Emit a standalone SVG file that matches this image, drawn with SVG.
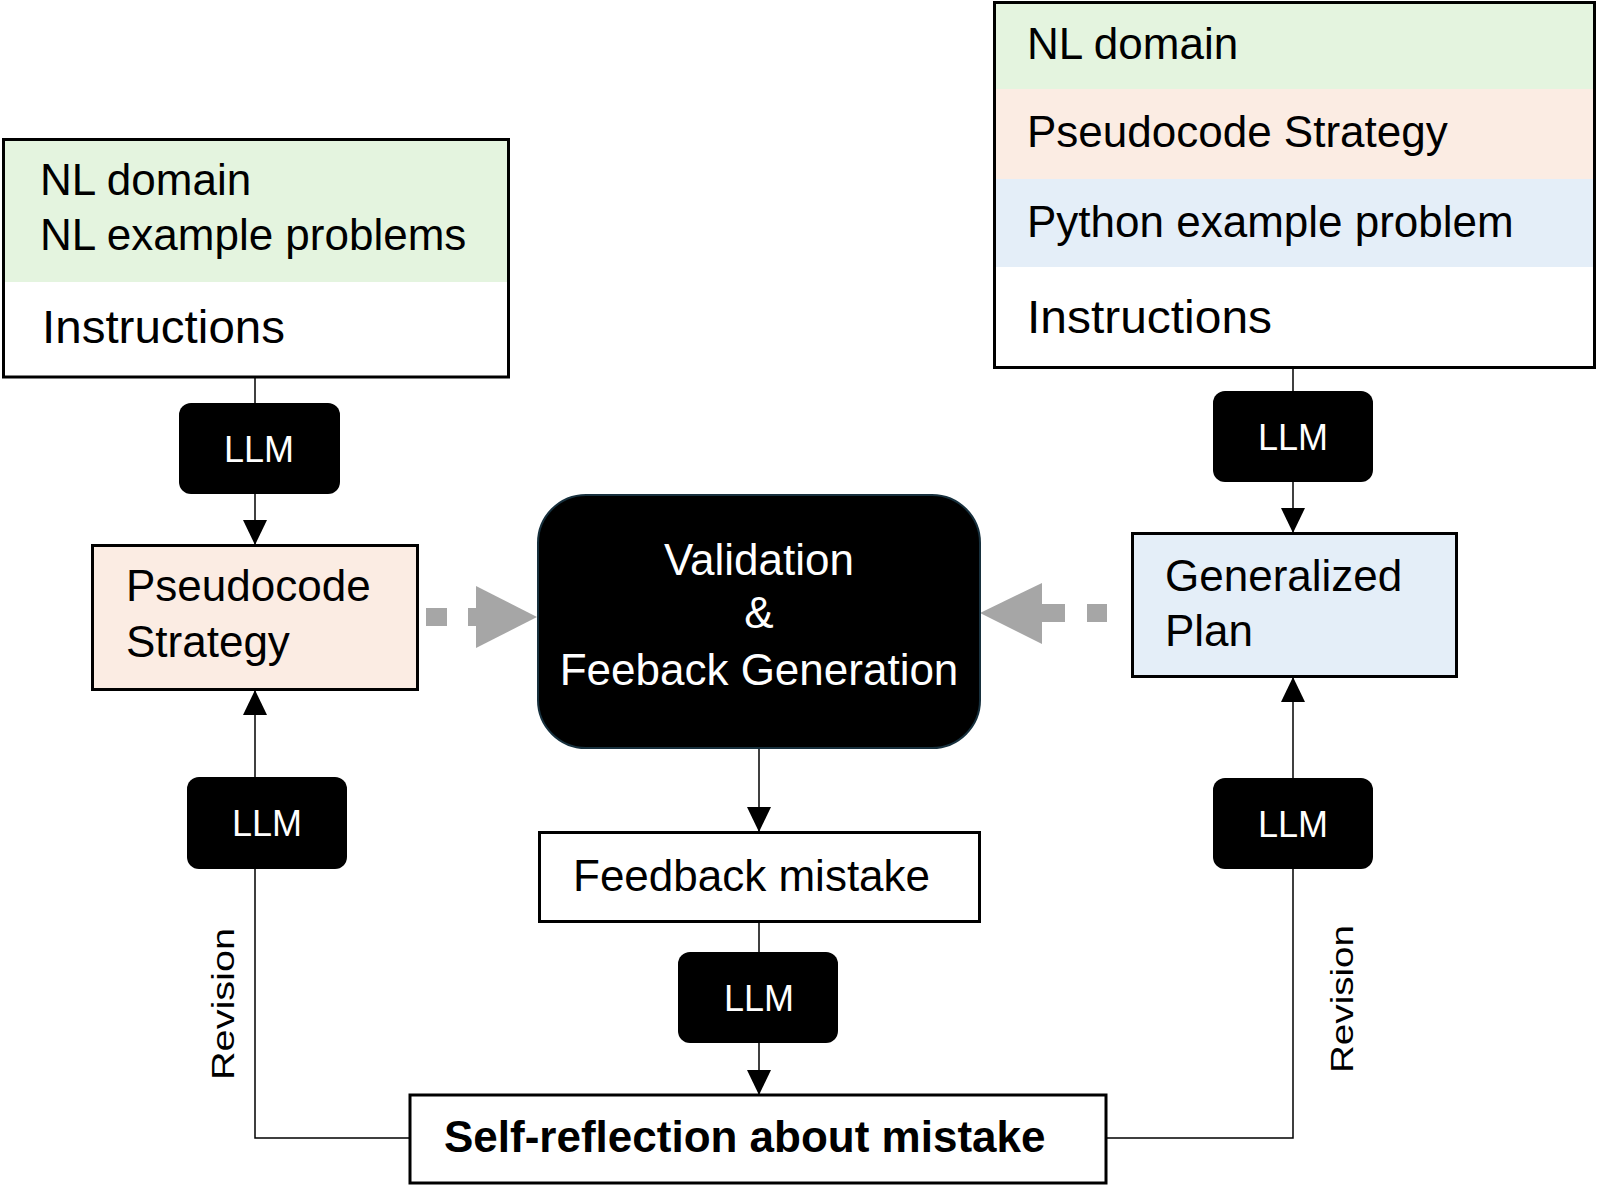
<svg xmlns="http://www.w3.org/2000/svg" width="1597" height="1194" viewBox="0 0 1597 1194">
<defs>
<style>
text{font-family:"Liberation Sans",Arial,sans-serif;}
.t{font-size:44px;fill:#000;}
.ins{font-size:47px;fill:#000;}
.llmt{font-size:36px;fill:#fff;text-anchor:middle;}
.vt{font-size:44px;fill:#fff;text-anchor:middle;}
.rev{font-size:32px;fill:#000;text-anchor:middle;}
.box{stroke:#000;stroke-width:3;}
.llm{fill:#000;}
.c{fill:none;stroke:#000;stroke-width:1.5;}
.g{fill:#A6A6A6;}
</style>
<marker id="ah" viewBox="0 0 25 24" refX="25" refY="12" markerWidth="25" markerHeight="24" markerUnits="userSpaceOnUse" orient="auto">
<path d="M0,0 L25,12 L0,24 Z" fill="#000"/>
</marker>
</defs>
<rect width="1597" height="1194" fill="#fff"/>

<g id="connectors">
<path class="c" d="M255,377 V403"/>
<path class="c" d="M255,494 V545" marker-end="url(#ah)"/>
<path class="c" d="M255,777 V690" marker-end="url(#ah)"/>
<path class="c" d="M410,1138 H255 V869"/>
<path class="c" d="M1293,368 V391"/>
<path class="c" d="M1293,482 V533" marker-end="url(#ah)"/>
<path class="c" d="M1293,778 V677" marker-end="url(#ah)"/>
<path class="c" d="M1106,1138 H1293 V869"/>
<path class="c" d="M759,748 V832" marker-end="url(#ah)"/>
<path class="c" d="M759,922 V952"/>
<path class="c" d="M759,1043 V1095" marker-end="url(#ah)"/>
<g id="gray-left">
<rect class="g" x="426" y="608" width="21" height="18"/>
<rect class="g" x="468" y="608" width="10" height="18"/>
<polygon class="g" points="476,586 537,617 476,648"/>
</g>
<g id="gray-right">
<polygon class="g" points="1042,583 980,613 1042,644"/>
<rect class="g" x="1041" y="604" width="24" height="18"/>
<rect class="g" x="1087" y="604" width="20" height="18"/>
</g>
<text class="rev" transform="translate(234,1004) rotate(-90)" textLength="152" lengthAdjust="spacingAndGlyphs">Revision</text>
<text class="rev" transform="translate(1353,999) rotate(-90)" textLength="148" lengthAdjust="spacingAndGlyphs">Revision</text>
</g>

<g id="input-left">
<rect x="3.5" y="139.5" width="505" height="237.5" fill="#fff"/>
<rect x="5" y="141" width="502" height="141" fill="#E4F4DF"/>
<rect class="box" x="3.5" y="139.5" width="505" height="237.5" fill="none"/>
<text class="t" x="40" y="195">NL domain</text>
<text class="t" x="40" y="250">NL example problems</text>
<text class="ins" x="42" y="343" textLength="243" lengthAdjust="spacingAndGlyphs">Instructions</text>
</g>

<g id="input-right">
<rect x="994.5" y="2.5" width="600" height="365" fill="#fff"/>
<rect x="996" y="4" width="597" height="85" fill="#E4F4DF"/>
<rect x="996" y="89" width="597" height="90" fill="#FBECE3"/>
<rect x="996" y="179" width="597" height="88" fill="#E4EEF8"/>
<rect class="box" x="994.5" y="2.5" width="600" height="365" fill="none"/>
<text class="t" x="1027" y="59">NL domain</text>
<text class="t" x="1027" y="147">Pseudocode Strategy</text>
<text class="t" x="1027" y="237">Python example problem</text>
<text class="ins" x="1027" y="333" textLength="245" lengthAdjust="spacingAndGlyphs">Instructions</text>
</g>

<g id="llm1"><rect class="llm" x="179" y="403" width="161" height="91" rx="12"/><text class="llmt" x="259" y="462">LLM</text></g>
<g id="llm2"><rect class="llm" x="187" y="777" width="160" height="92" rx="12"/><text class="llmt" x="267" y="836">LLM</text></g>
<g id="llm3"><rect class="llm" x="678" y="952" width="160" height="91" rx="12"/><text class="llmt" x="759" y="1011">LLM</text></g>
<g id="llm4"><rect class="llm" x="1213" y="391" width="160" height="91" rx="12"/><text class="llmt" x="1293" y="450">LLM</text></g>
<g id="llm5"><rect class="llm" x="1213" y="778" width="160" height="91" rx="12"/><text class="llmt" x="1293" y="837">LLM</text></g>

<g id="pseudocode">
<rect class="box" x="92.5" y="545.5" width="325" height="144" fill="#FBECE3"/>
<text class="t" x="126" y="601">Pseudocode</text>
<text class="t" x="126" y="657">Strategy</text>
</g>

<g id="plan">
<rect class="box" x="1132.5" y="533.5" width="324" height="143" fill="#E4EEF8"/>
<text class="t" x="1165" y="591">Generalized</text>
<text class="t" x="1165" y="646">Plan</text>
</g>

<g id="validation">
<rect x="538" y="495" width="442" height="253" rx="48" fill="#000" stroke="#17303d" stroke-width="2"/>
<text class="vt" x="759" y="575">Validation</text>
<text class="vt" x="759" y="628">&amp;</text>
<text class="vt" x="759" y="685">Feeback Generation</text>
</g>

<g id="feedback">
<rect class="box" x="539.5" y="832.5" width="440" height="89" fill="#fff"/>
<text class="t" x="573" y="891">Feedback mistake</text>
</g>

<g id="reflection">
<rect class="box" x="410" y="1095" width="696" height="88" fill="#fff"/>
<text class="t" x="444" y="1152" font-weight="bold">Self-reflection about mistake</text>
</g>
</svg>
